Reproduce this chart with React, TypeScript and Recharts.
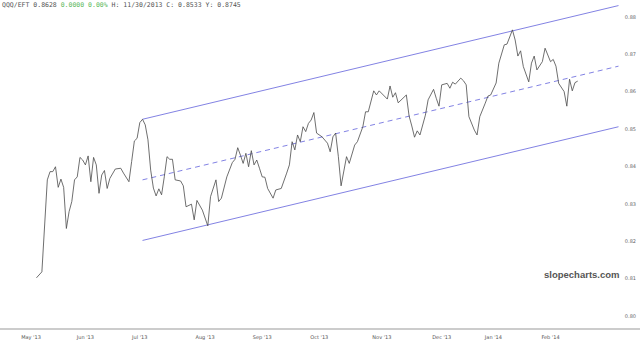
import { ComposedChart, Line, XAxis, YAxis, ReferenceLine } from 'recharts';

// trading session index (0 = first session of May '13) and QQQ ratio close
const sessions = [
  2, 4, 6, 7, 8, 9, 10, 11, 12, 13, 14, 15, 16, 17, 18, 19, 20, 21, 22, 23, 24, 25, 26, 27, 28, 29,
  31, 33, 34, 36, 37, 38, 39, 40, 41, 42, 43, 44, 45, 46, 47, 48, 49, 50, 51, 52, 53, 55, 56, 57,
  59, 60, 61, 63, 65, 66, 68, 69, 70, 72, 74, 75, 76, 77, 78, 79, 80, 81, 82, 83, 84, 85, 86, 87,
  89, 90, 92, 94, 95, 96, 97, 98, 99, 100, 101, 102, 103, 104, 105, 107, 109, 110, 111, 112, 113,
  114, 116, 117, 119, 120, 122, 123, 124, 126, 127, 128, 131, 132, 133, 134, 135, 138, 139, 140,
  141, 142, 143, 145, 146, 148, 149, 150, 151, 153, 154, 155, 156, 158, 159, 160, 161, 163, 164,
  165, 167, 168, 169, 171, 172, 174, 175, 177, 178, 179, 180, 181, 183, 184, 185, 186, 188, 189,
  191, 192, 193, 194, 196, 197, 198, 199, 200, 201,
];

const ratio = [
  0.8102, 0.8118, 0.8364, 0.8386, 0.8386, 0.8399, 0.8344, 0.8366, 0.8344, 0.8234, 0.8279, 0.8306,
  0.8364, 0.8372, 0.8424, 0.8417, 0.8404, 0.8428, 0.8359, 0.8424, 0.8404, 0.8328, 0.8377, 0.8389,
  0.8341, 0.8368, 0.8393, 0.8395, 0.8382, 0.8359, 0.8413, 0.8468, 0.8475, 0.8517, 0.8526, 0.8511,
  0.8471, 0.839, 0.8342, 0.8321, 0.834, 0.8324, 0.8372, 0.8426, 0.8419, 0.8419, 0.8364, 0.8361,
  0.8348, 0.8292, 0.8299, 0.8257, 0.8309, 0.8283, 0.8241, 0.8319, 0.8364, 0.8306, 0.8315, 0.8372,
  0.841, 0.8419, 0.845, 0.843, 0.8408, 0.8435, 0.8399, 0.8442, 0.8404, 0.8417, 0.8395, 0.8372,
  0.8371, 0.8341, 0.8315, 0.8337, 0.8341, 0.8382, 0.8404, 0.8466, 0.8444, 0.8484, 0.8466, 0.8506,
  0.8493, 0.8515, 0.8524, 0.8544, 0.8489, 0.8479, 0.8462, 0.8439, 0.8479, 0.8489, 0.8426, 0.8348,
  0.8426, 0.8408, 0.8457, 0.8466, 0.8506, 0.8546, 0.8546, 0.8602, 0.8591, 0.8602, 0.858, 0.8615,
  0.8585, 0.8597, 0.857, 0.8591, 0.8535, 0.8508, 0.8478, 0.8495, 0.8484, 0.8537, 0.8578, 0.8606,
  0.8582, 0.8561, 0.8618, 0.8622, 0.8609, 0.8625, 0.862, 0.8636, 0.8629, 0.8618, 0.8533, 0.8497,
  0.8484, 0.8533, 0.8569, 0.8588, 0.8591, 0.8623, 0.8676, 0.8725, 0.8727, 0.8765, 0.8738, 0.8695,
  0.8709, 0.8667, 0.8626, 0.8676, 0.8695, 0.8658, 0.868, 0.8716, 0.868, 0.8686, 0.8668, 0.8622,
  0.86, 0.8561, 0.8633, 0.8602, 0.8624, 0.8628,
];

const monthTicks = [0, 20, 40, 64, 85, 106, 129, 151, 170, 191];
const monthLabels = ["May '13", "Jun '13", "Jul '13", "Aug '13", "Sep '13", "Oct '13", "Nov '13", "Dec '13", "Jan '14", "Feb '14"];
const priceTicks = [0.8, 0.81, 0.82, 0.83, 0.84, 0.85, 0.86, 0.87, 0.88];

// regression channel: start/end session, midline value, half width
const channelSessions = [41, 216];
const channelMid = [0.8364, 0.8668];
const channelHalf = 0.0162;

const rows = sessions.map((s, i) => ({ s, v: ratio[i] }));

const CHANNEL = '#7474e0';

export default function App() {
  const seg = (off: number) => [
    { x: channelSessions[0], y: channelMid[0] + off },
    { x: channelSessions[1], y: channelMid[1] + off },
  ];

  return (
    <div style={{ position: 'absolute', left: 0, top: 0, width: 640, height: 343, background: '#fff' }}>
      <ComposedChart width={640} height={343} data={rows} margin={{ top: 0, right: 0, bottom: 0, left: 0 }}>
        <XAxis
          dataKey="s"
          type="number"
          domain={[-11.4, 223.9]}
          allowDataOverflow
          ticks={monthTicks}
          tickFormatter={(t) => monthLabels[monthTicks.indexOf(t)]}
          height={14}
          stroke="#999"
          tickLine={false}
          tickSize={0}
          tickMargin={6}
          tick={{ fontSize: 5, fill: '#555', fontFamily: 'DejaVu Sans' }}
        />
        <YAxis
          orientation="right"
          mirror
          width={30}
          domain={[0.79652, 0.88449]}
          allowDataOverflow
          ticks={priceTicks}
          tickFormatter={(v) => v.toFixed(2)}
          axisLine={false}
          tickLine={false}
          tickSize={0}
          tickMargin={4}
          tick={{ fontSize: 5, fill: '#666', fontFamily: 'DejaVu Sans' }}
        />
        <ReferenceLine segment={seg(channelHalf)} stroke={CHANNEL} strokeWidth={0.9} ifOverflow="visible" />
        <ReferenceLine segment={seg(0)} stroke={CHANNEL} strokeWidth={0.9} strokeDasharray="5 4" ifOverflow="visible" />
        <ReferenceLine segment={seg(-channelHalf)} stroke={CHANNEL} strokeWidth={0.9} ifOverflow="visible" />
        <Line
          type="linear"
          dataKey="v"
          stroke="#4a4a4a"
          strokeWidth={0.8}
          dot={false}
          activeDot={false}
          isAnimationActive={false}
        />
      </ComposedChart>
      <div
        style={{
          position: 'absolute', left: 2, top: 1, fontFamily: 'DejaVu Sans Mono', fontSize: 6.5,
          color: '#555', whiteSpace: 'pre',
        }}
      >
        QQQ/EFT 0.8628 <span style={{ color: '#5cb85c' }}>0.0000 0.00%</span> H: 11/30/2013 C: 0.8533 Y: 0.8745
      </div>
      <div
        style={{
          position: 'absolute', left: 544, top: 269, fontFamily: 'Liberation Sans', fontWeight: 'bold',
          fontSize: 9.5, color: '#555',
        }}
      >
        slopecharts.com
      </div>
    </div>
  );
}
